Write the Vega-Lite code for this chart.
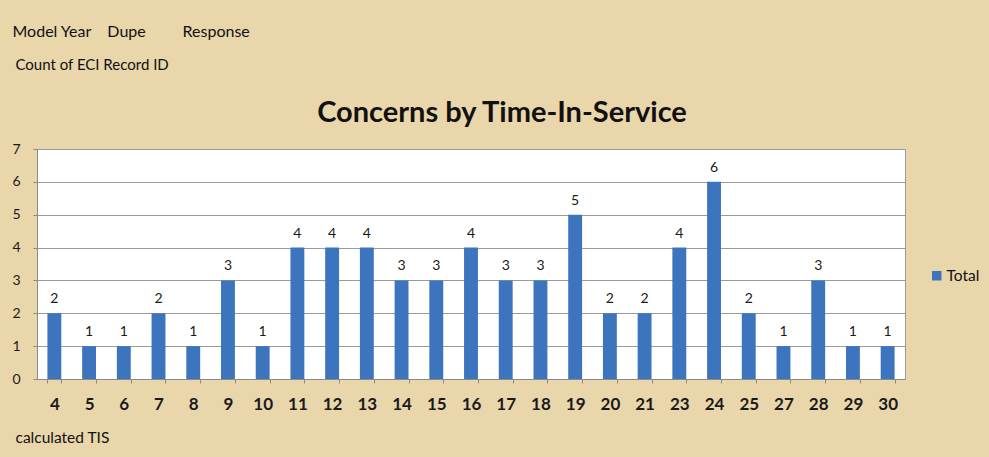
{
  "$schema": "https://vega.github.io/schema/vega-lite/v6.json",
  "width": 868,
  "height": 230,
  "autosize": {"type": "none"},
  "padding": {"left": 37, "top": 149, "right": 84, "bottom": 78},
  "background": "#e9d6aa",
  "config": {
    "font": "Lato",
    "view": {"fill": "#ffffff", "stroke": "#9a9a9a", "strokeWidth": 1},
    "axisY": {"tickCount": 8, "tickMinStep": 1}
  },
  "title": {
    "text": "Concerns by Time-In-Service",
    "font": "Lato",
    "fontSize": 29,
    "fontWeight": "bold",
    "color": "#111111",
    "anchor": "middle",
    "dx": 31,
    "offset": 0,
    "dy": 105
  },
  "data": {
    "values": [
      {"TIS": 4, "count": 2},
      {"TIS": 5, "count": 1},
      {"TIS": 6, "count": 1},
      {"TIS": 7, "count": 2},
      {"TIS": 8, "count": 1},
      {"TIS": 9, "count": 3},
      {"TIS": 10, "count": 1},
      {"TIS": 11, "count": 4},
      {"TIS": 12, "count": 4},
      {"TIS": 13, "count": 4},
      {"TIS": 14, "count": 3},
      {"TIS": 15, "count": 3},
      {"TIS": 16, "count": 4},
      {"TIS": 17, "count": 3},
      {"TIS": 18, "count": 3},
      {"TIS": 19, "count": 5},
      {"TIS": 20, "count": 2},
      {"TIS": 21, "count": 2},
      {"TIS": 23, "count": 4},
      {"TIS": 24, "count": 6},
      {"TIS": 25, "count": 2},
      {"TIS": 27, "count": 1},
      {"TIS": 28, "count": 3},
      {"TIS": 29, "count": 1},
      {"TIS": 30, "count": 1}
    ]
  },
  "resolve": {"axis": {"x": "independent"}},
  "encoding": {
    "y": {
      "field": "count",
      "type": "quantitative",
      "scale": {"domain": [0, 7], "nice": false},
      "axis": {
        "values": [0, 1, 2, 3, 4, 5, 6, 7],
        "tickCount": 8,
        "tickMinStep": 1,
        "labelOverlap": false,
        "labelFont": "Lato",
        "labelFontSize": 14,
        "labelColor": "#1a1a1a",
        "labelPadding": 13,
        "tickSize": 4,
        "tickColor": "#8a8a8a",
        "domainColor": "#8a8a8a",
        "gridColor": "#9a9a9a",
        "gridOpacity": 1,
        "title": "Count of  ECI Record ID",
        "titleAngle": 0,
        "titleFont": "Lato",
        "titleFontSize": 15,
        "titleFontWeight": "normal",
        "titleColor": "#111111",
        "titleAlign": "left",
        "titleBaseline": "middle",
        "titleX": -22,
        "titleY": -85
      }
    }
  },
  "layer": [
    {
      "mark": {"type": "bar"},
      "encoding": {
        "x": {
          "field": "TIS",
          "type": "ordinal",
          "scale": {"paddingInner": 0.6, "paddingOuter": 0.3},
          "axis": {
            "orient": "bottom",
            "labelAngle": 0,
            "labelFont": "Lato",
            "labelFontSize": 17,
            "labelFontWeight": "bold",
            "labelColor": "#1a1a1a",
            "labelPadding": 13,
            "tickBand": "extent",
            "tickSize": 4,
            "tickColor": "#8a8a8a",
            "domainColor": "#8a8a8a",
            "title": "calculated TIS",
            "titleFont": "Lato",
            "titleFontSize": 15.5,
            "titleFontWeight": "normal",
            "titleColor": "#111111",
            "titleAlign": "left",
            "titleBaseline": "middle",
            "titleX": -22,
            "titleY": 58
          }
        },
        "color": {
          "datum": "Total",
          "type": "nominal",
          "scale": {"range": ["#3c74bd"]},
          "legend": {
            "title": null,
            "orient": "none",
            "legendX": 892,
            "legendY": 119,
            "symbolType": "square",
            "symbolSize": 90,
            "labelFont": "Lato",
            "labelFontSize": 15.5,
            "labelColor": "#111111",
            "labelOffset": 2
          }
        }
      }
    },
    {
      "mark": {"type": "text", "dy": -14, "font": "Lato", "fontSize": 14, "color": "#1a1a1a"},
      "encoding": {
        "x": {
          "field": "TIS",
          "type": "ordinal",
          "axis": {
            "orient": "top",
            "labels": false,
            "ticks": false,
            "domain": false,
            "grid": false,
            "title": "Model Year\u00a0\u00a0\u00a0\u00a0Dupe\u00a0\u00a0\u00a0\u00a0\u00a0\u00a0\u00a0\u00a0\u00a0Response",
            "titleFont": "Lato",
            "titleFontSize": 16,
            "titleFontWeight": "normal",
            "titleColor": "#111111",
            "titleAlign": "left",
            "titleBaseline": "middle",
            "titleX": -25,
            "titleY": -118
          }
        },
        "text": {"field": "count", "type": "quantitative"}
      }
    }
  ]
}
